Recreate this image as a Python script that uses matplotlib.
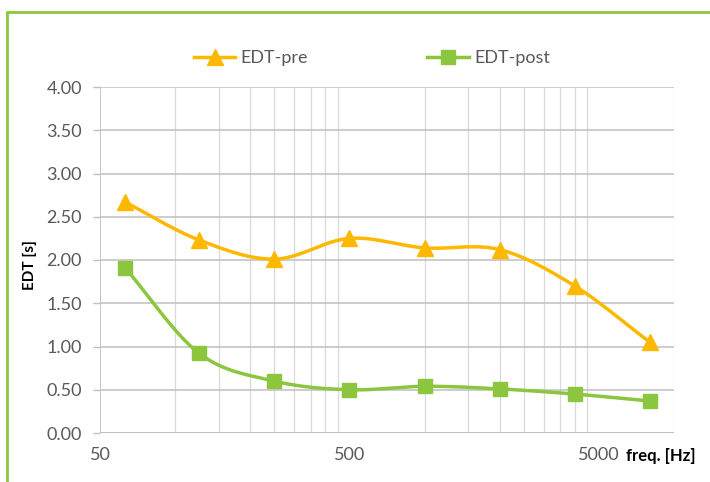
import numpy as np
import matplotlib.pyplot as plt
from matplotlib.patches import Rectangle

# --- Data (octave bands) ---
freqs = [63, 125, 250, 500, 1000, 2000, 4000, 8000]
edt_pre = [2.67, 2.23, 2.01, 2.25, 2.14, 2.12, 1.70, 1.05]
edt_post = [1.91, 0.92, 0.60, 0.50, 0.54, 0.51, 0.45, 0.37]
y_ticks = [0.0, 0.5, 1.0, 1.5, 2.0, 2.5, 3.0, 3.5, 4.0]
x_ticks = [50, 500, 5000]

ORANGE = "#FFB800"
GREEN = "#8CC63F"
GRID = "#BFBFBF"
TXT = "#595959"

plt.rcParams['font.family'] = ['Lato', 'DejaVu Sans']


def smooth(xs, ys, n=30):
    # Catmull-Rom style smoothing in log-x space (like Excel "smoothed line")
    lx = np.log10(xs)
    ys = np.asarray(ys, dtype=float)
    px = np.concatenate([[2 * lx[0] - lx[1]], lx, [2 * lx[-1] - lx[-2]]])
    py = np.concatenate([[2 * ys[0] - ys[1]], ys, [2 * ys[-1] - ys[-2]]])
    outx, outy = [], []
    t = np.linspace(0, 1, n)
    for i in range(1, len(px) - 2):
        for arr, out in ((px, outx), (py, outy)):
            p0, p1, p2, p3 = arr[i - 1], arr[i], arr[i + 1], arr[i + 2]
            out.extend(0.5 * ((2 * p1) + (-p0 + p2) * t
                              + (2 * p0 - 5 * p1 + 4 * p2 - p3) * t ** 2
                              + (-p0 + 3 * p1 - 3 * p2 + p3) * t ** 3))
    return 10 ** np.array(outx), np.array(outy)


fig = plt.figure(figsize=(7.1, 4.82), dpi=100)
ax = fig.add_axes([100 / 710, 1 - 433 / 482, 574 / 710, 346 / 482])

# outer green frame
fig.patches.append(Rectangle((7 / 710, -0.1), 1.2, 1 - 12 / 482 + 0.1,
                             transform=fig.transFigure, fill=False,
                             edgecolor=GREEN, linewidth=2))

ax.set_xscale('log')
ax.set_xlim(50, 10000)
ax.set_ylim(0, 4)

# grid lines
minor_x = [50 * k * d for d in (1, 10, 100) for k in range(2, 10)]
for xv in minor_x:
    ax.axvline(xv, color="#D9D9D9", linewidth=0.9, zorder=0)
for yv in y_ticks:
    ax.axhline(yv, color=GRID, linewidth=1.1, zorder=0)

sx, sy = smooth(freqs, edt_pre)
ax.plot(sx, sy, color=ORANGE, linewidth=2.5, zorder=2)
ax.plot(freqs, edt_pre, linestyle='none', marker='^', markersize=11,
        color=ORANGE, zorder=3)
sx, sy = smooth(freqs, edt_post)
ax.plot(sx, sy, color=GREEN, linewidth=2.5, zorder=2)
ax.plot(freqs, edt_post, linestyle='none', marker='s', markersize=10,
        color=GREEN, zorder=3)

ax.set_xticks(x_ticks)
ax.set_xticklabels([str(v) for v in x_ticks])
ax.xaxis.set_minor_locator(plt.NullLocator())
ax.set_yticks(y_ticks)
ax.set_yticklabels([f"{v:.2f}" for v in y_ticks])
ax.tick_params(axis='both', colors=GRID, labelcolor=TXT, labelsize=13,
               length=5, width=1)
ax.tick_params(axis='y', pad=8)
ax.tick_params(axis='x', length=0, pad=10)
for side in ('top', 'right', 'bottom', 'left'):
    ax.spines[side].set_visible(False)
ax.axhline(0, color=GRID, linewidth=1.3, zorder=1)
ax.axvline(50, color=GRID, linewidth=1.3, zorder=1)

fig.text(30 / 710, 1 - 265 / 482, "EDT [s]", rotation=90, ha='center',
         va='center', fontsize=11, fontweight='bold', color='black')
fig.text(626 / 710, 1 - 456 / 482, "freq. [Hz]", ha='left', va='center',
         fontsize=12, fontweight='bold', color='black')

# legend
h1, = ax.plot([], [], color=ORANGE, linewidth=2.5, marker='^', markersize=11)
h2, = ax.plot([], [], color=GREEN, linewidth=2.5, marker='s', markersize=10)
fig.legend([h1, h2], ["EDT-pre", "EDT-post"], loc='center',
           bbox_to_anchor=(372 / 710, 1 - 58 / 482), ncol=2, frameon=False,
           fontsize=13, columnspacing=6.6, handlelength=2.3, handletextpad=0.3,
           labelcolor=TXT)

plt.savefig("out.png", dpi=100)
